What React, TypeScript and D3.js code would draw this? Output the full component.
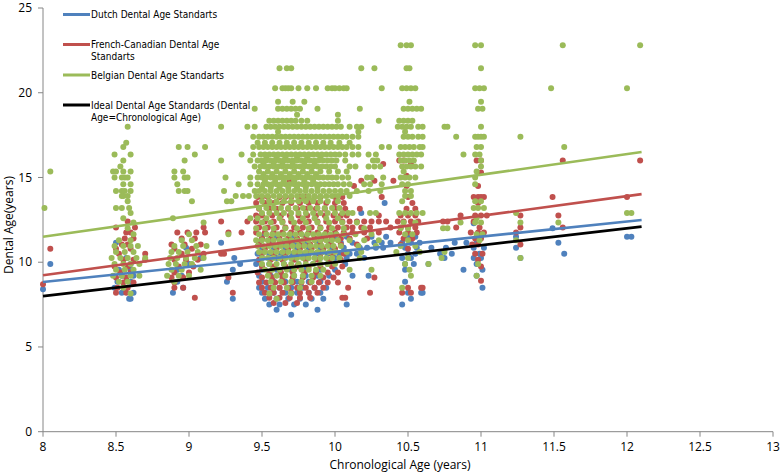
import React from 'react';
import * as d3 from 'd3';

const xTicks = [8, 8.5, 9, 9.5, 10, 10.5, 11, 11.5, 12, 12.5, 13];
const yTicks = [0, 5, 10, 15, 20, 25];

// Dutch (blue) points, grouped as [dental age, chronological ages[]]
const dutchRows: [number, number[]][] = [
  [13.5, [10.34]],
  [12.9, [10.18]],
  [12.3, [10.95]],
  [12.0, [11.49]],
  [11.5, [9.5, 9.6, 9.7, 9.8, 9.9, 10.0, 10.08, 10.25, 10.35, 10.5, 10.55, 11.0, 12.0, 12.03, 11.24]],
  [11.15, [8.5, 9.22, 9.48, 9.56, 9.64, 9.72, 9.8, 9.88, 9.96, 10.04, 10.12, 10.27, 10.32, 10.38, 10.46, 10.52, 10.58, 10.82, 10.9, 10.97, 11.53]],
  [10.85, [8.98, 9.5, 9.58, 9.66, 9.74, 9.82, 9.9, 9.98, 10.06, 10.17, 10.22, 10.28, 10.33, 10.48, 10.56, 10.66, 10.76, 10.95, 11.02, 11.24]],
  [10.5, [9.47, 9.55, 9.63, 9.71, 9.79, 9.87, 9.95, 10.03, 10.1, 10.15, 10.5, 10.55, 10.72, 10.8, 10.99, 11.57]],
  [10.25, [8.57, 9.08, 9.31, 9.5, 9.6, 9.7, 9.8, 9.9, 10.0, 10.08, 10.2, 10.46, 10.52, 10.75, 10.95, 11.0, 11.27]],
  [9.9, [8.05, 8.6, 9.0, 9.35, 9.46, 9.55, 9.65, 9.75, 9.85, 9.95, 10.07, 10.48, 10.54, 10.64, 10.97]],
  [9.55, [8.52, 8.6, 8.92, 9.3, 9.5, 9.6, 9.7, 9.8, 9.9, 10.0, 10.48, 10.88, 11.01]],
  [9.2, [8.54, 8.62, 8.95, 9.48, 9.56, 9.64, 9.72, 9.8, 9.88, 9.96, 10.12, 10.23, 10.97]],
  [8.85, [8.51, 8.6, 8.92, 9.26, 9.5, 9.58, 9.66, 9.74, 9.82, 9.9, 10.48]],
  [8.5, [8.49, 8.56, 8.96, 9.48, 9.54, 9.62, 9.7, 9.78, 9.86, 9.94, 11.01]],
  [8.4, [8.0]],
  [8.2, [8.54, 8.62, 8.89, 9.5, 9.58, 9.66, 9.74, 9.82, 9.9, 10.5, 10.59, 10.6]],
  [7.85, [8.59, 8.6, 9.3, 9.52, 9.6, 9.68, 9.76, 9.84, 9.92, 10.52]],
  [7.5, [9.55, 9.62, 9.72, 9.8, 10.08, 10.46]],
  [7.2, [9.6, 9.88]],
  [6.9, [9.7]],
];

// French-Canadian (red) points
const frenchRows: [number, number[]][] = [
  [16.0, [10.44, 10.47, 10.97, 11.0, 11.56, 12.09]],
  [15.8, [10.33, 10.52]],
  [15.3, [11.0]],
  [15.1, [10.49]],
  [14.8, [9.69, 10.18, 10.27, 10.4]],
  [14.5, [10.13, 10.49, 10.98]],
  [13.85, [9.47, 9.5, 9.54, 9.62, 9.66, 9.7, 9.76, 9.8, 9.86, 9.9, 10.0, 10.05, 10.32, 10.5, 10.95, 10.98, 11.0, 11.02, 11.49, 12.0]],
  [13.5, [9.46, 9.52, 9.58, 9.64, 9.7, 9.76, 9.82, 9.88, 9.94, 10.0, 10.06, 10.53, 10.98]],
  [13.15, [9.48, 9.55, 9.6, 9.68, 9.74, 9.8, 9.87, 9.93, 10.0, 10.07, 10.17, 10.49, 10.55]],
  [12.75, [9.46, 9.5, 9.57, 9.63, 9.69, 9.75, 9.81, 9.87, 9.93, 9.99, 10.04, 10.08, 10.3, 10.45, 10.5, 10.55, 10.96, 11.0, 11.04, 11.27, 11.53, 10.86]],
  [12.4, [8.58, 9.22, 9.4, 9.46, 9.52, 9.58, 9.64, 9.7, 9.76, 9.82, 9.88, 9.94, 10.0, 10.05, 10.1, 10.15, 10.2, 10.25, 10.3, 10.35, 10.43, 10.47, 10.52, 10.57, 10.74, 10.77, 10.95]],
  [12.05, [8.5, 8.63, 9.1, 9.48, 9.54, 9.6, 9.66, 9.72, 9.78, 9.84, 9.9, 9.96, 10.02, 10.08, 10.12, 10.18, 10.24, 10.38, 10.45, 10.5, 10.55, 10.83, 10.99, 11.27, 11.56]],
  [11.75, [8.57, 8.6, 8.92, 8.99, 9.05, 9.11, 9.27, 9.36, 9.46, 9.52, 9.58, 9.64, 9.7, 9.76, 9.82, 9.88, 9.94, 10.0, 10.06, 10.12, 10.2, 10.3, 10.44, 10.5, 10.56, 10.93, 10.98, 11.02, 11.24]],
  [11.4, [8.56, 8.62, 8.95, 9.04, 9.5, 9.56, 9.62, 9.68, 9.74, 9.8, 9.86, 9.92, 9.98, 10.04, 10.1, 10.22, 10.47, 10.53, 10.96, 11.0]],
  [11.05, [8.54, 8.58, 8.88, 8.97, 9.08, 9.48, 9.55, 9.62, 9.69, 9.76, 9.83, 9.9, 9.97, 10.04, 10.15, 10.45, 10.94, 10.98, 11.27]],
  [10.8, [8.05, 8.5, 8.6, 8.9, 9.02, 9.52, 9.6, 9.68, 9.76, 9.84, 9.92, 10.0, 10.5]],
  [10.5, [8.52, 8.7, 8.95, 9.1, 9.22, 9.24, 9.5, 9.58, 9.66, 9.74, 9.82, 9.9, 9.98, 10.06, 10.96, 11.01]],
  [10.15, [8.55, 8.62, 8.7, 8.9, 8.98, 9.06, 9.48, 9.56, 9.64, 9.72, 9.8, 9.88, 9.96, 10.04, 10.98]],
  [9.75, [8.49, 8.58, 8.93, 9.03, 9.5, 9.58, 9.66, 9.74, 9.82, 9.9, 9.98, 10.05, 11.0]],
  [9.4, [8.53, 8.6, 8.9, 9.0, 9.47, 9.55, 9.63, 9.71, 9.79, 9.87, 9.95, 10.02]],
  [9.1, [8.5, 8.57, 8.88, 8.96, 9.27, 9.5, 9.57, 9.64, 9.71, 9.78, 9.85, 9.92, 9.99, 10.27]],
  [8.9, [11.0]],
  [8.8, [8.55, 8.62, 8.9, 9.48, 9.53, 9.59, 9.65, 9.71, 9.77, 9.83, 9.89, 9.95, 10.02]],
  [8.7, [8.0]],
  [8.5, [8.51, 8.58, 8.9, 8.96, 9.5, 9.56, 9.62, 9.68, 9.74, 9.8, 9.86, 9.92, 10.09, 10.5, 10.59, 10.6]],
  [8.2, [8.5, 8.57, 9.3, 9.52, 9.58, 9.64, 9.7, 9.76, 9.82, 9.88, 10.24, 10.46, 10.52]],
  [7.9, [9.04, 9.55, 9.62, 9.69, 9.76, 9.83, 10.05, 10.07]],
  [7.6, [9.58, 9.66, 9.74]],
];

// Belgian (green) points
const belgianRows: [number, number[]][] = [
  [22.8, [10.45, 10.49, 10.52, 10.96, 11.0, 11.56, 12.09]],
  [21.45, [9.62, 9.67, 9.7, 10.18, 10.27, 10.49, 10.51, 11.0]],
  [20.27, [9.59, 9.64, 9.66, 9.68, 9.7, 9.75, 9.81, 9.87, 9.95, 9.98, 10.0, 10.03, 10.06, 10.08, 10.32, 10.46, 10.49, 10.52, 10.55, 10.96, 10.99, 11.02, 11.48, 12.0]],
  [19.47, [9.61, 9.71, 9.79, 10.51, 11.0]],
  [19.05, [9.45, 9.61, 9.64, 9.67, 9.7, 9.73, 9.76, 9.88, 10.17, 10.47, 10.5, 10.53, 10.56, 10.59, 10.98, 11.01]],
  [18.7, [9.74, 10.02]],
  [18.35, [9.55, 9.58, 9.61, 9.64, 9.67, 9.7, 9.73, 9.77, 9.81, 10.02, 10.3, 10.44, 10.47, 10.5, 10.53]],
  [18.0, [8.58, 9.22, 9.4, 9.45, 9.53, 9.56, 9.59, 9.62, 9.65, 9.68, 9.71, 9.74, 9.77, 9.8, 9.83, 9.86, 9.89, 9.92, 9.95, 9.98, 10.01, 10.04, 10.1, 10.15, 10.18, 10.43, 10.46, 10.49, 10.52, 10.57, 10.6, 10.75, 10.77, 11.0]],
  [17.7, [9.61, 10.16, 10.48]],
  [17.4, [9.44, 9.48, 9.51, 9.54, 9.57, 9.6, 9.63, 9.66, 9.69, 9.72, 9.75, 9.78, 9.81, 9.84, 9.87, 9.9, 9.93, 9.96, 9.99, 10.02, 10.05, 10.08, 10.12, 10.16, 10.47, 10.5, 10.53, 10.57, 10.6, 10.83, 10.96, 10.98, 11.0, 11.02, 11.27]],
  [17.05, [8.57, 9.47, 9.52, 9.57, 9.62, 9.67, 9.72, 9.77, 9.82, 9.87, 9.92, 9.97, 10.03, 10.1]],
  [16.8, [8.55, 8.93, 8.99, 9.11, 9.44, 9.48, 9.51, 9.54, 9.57, 9.6, 9.63, 9.66, 9.69, 9.72, 9.75, 9.78, 9.81, 9.84, 9.87, 9.9, 9.93, 9.96, 9.99, 10.02, 10.05, 10.08, 10.12, 10.16, 10.32, 10.37, 10.45, 10.48, 10.51, 10.54, 10.58, 10.6, 10.97, 11.0, 11.57]],
  [16.35, [8.49, 8.6, 9.04, 9.36, 9.44, 9.49, 9.52, 9.55, 9.58, 9.61, 9.64, 9.67, 9.7, 9.73, 9.76, 9.79, 9.82, 9.85, 9.88, 9.91, 9.94, 9.97, 10.0, 10.03, 10.07, 10.12, 10.16, 10.23, 10.28, 10.44, 10.47, 10.5, 10.53, 10.56, 10.59, 10.88, 10.96, 10.99]],
  [16.15, [9.53, 9.6, 9.66, 9.74, 9.81, 9.9]],
  [16.0, [8.55, 8.97, 9.22, 9.42, 9.47, 9.5, 9.53, 9.56, 9.59, 9.62, 9.65, 9.68, 9.71, 9.74, 9.77, 9.8, 9.83, 9.86, 9.89, 9.92, 9.95, 9.98, 10.01, 10.07, 10.26, 10.29, 10.45, 10.48, 10.51, 10.54, 11.0]],
  [15.8, [9.51, 9.58, 9.64, 9.71, 9.79, 9.86]],
  [15.65, [8.53, 9.45, 9.49, 9.52, 9.55, 9.58, 9.61, 9.64, 9.67, 9.7, 9.73, 9.76, 9.79, 9.82, 9.85, 9.88, 9.91, 9.94, 9.97, 10.0, 10.1, 10.14, 10.23, 10.27, 10.31, 10.46, 10.49, 10.52, 10.55, 10.59, 11.0]],
  [15.35, [8.05, 8.48, 8.5, 8.55, 8.6, 8.9, 8.96, 9.48, 9.54, 9.6, 9.66, 9.72, 9.78, 9.84, 9.9, 9.96, 10.02, 10.08, 10.47, 10.97]],
  [15.2, [9.51, 9.57, 9.63, 9.69, 9.75, 9.81, 9.87]],
  [15.0, [8.49, 8.54, 8.56, 8.58, 8.9, 8.97, 8.99, 9.25, 9.42, 9.47, 9.5, 9.53, 9.56, 9.59, 9.62, 9.65, 9.68, 9.71, 9.74, 9.77, 9.8, 9.83, 9.86, 9.89, 9.92, 9.95, 9.98, 10.01, 10.05, 10.09, 10.22, 10.25, 10.33, 10.45, 10.48, 10.51, 10.55, 10.96]],
  [14.8, [9.52, 9.59, 9.65, 9.72, 9.79, 9.85]],
  [14.6, [8.55, 8.6, 8.92, 9.34, 9.42, 9.47, 9.51, 9.54, 9.57, 9.6, 9.63, 9.66, 9.69, 9.72, 9.75, 9.78, 9.81, 9.84, 9.87, 9.9, 9.93, 9.96, 9.99, 10.02, 10.06, 10.1, 10.2, 10.24, 10.32, 10.46, 10.5, 10.96]],
  [14.4, [9.5, 9.56, 9.62, 9.68, 9.74, 9.8, 9.88]],
  [14.2, [8.5, 8.54, 8.56, 8.6, 8.93, 8.97, 8.99, 9.24, 9.45, 9.48, 9.52, 9.56, 9.6, 9.64, 9.68, 9.72, 9.76, 9.8, 9.84, 9.88, 9.92, 9.96, 10.0, 10.04, 10.08, 10.15, 10.23, 10.31, 10.48, 10.52]],
  [13.9, [8.54, 8.55, 8.58, 9.32, 9.37, 9.41, 9.46, 9.5, 9.54, 9.58, 9.62, 9.66, 9.7, 9.74, 9.78, 9.82, 9.86, 9.9, 9.94, 9.98, 10.02, 10.1, 10.48, 10.52]],
  [13.6, [8.58, 9.02, 9.26, 9.29, 9.5, 9.55, 9.6, 9.65, 9.7, 9.75, 9.8, 9.85, 9.9, 9.95, 10.02, 10.46, 10.96, 11.0]],
  [13.2, [8.01, 8.5, 8.54, 8.59, 9.48, 9.53, 9.58, 9.63, 9.68, 9.73, 9.78, 9.83, 9.88, 9.93, 9.98, 10.03, 10.95, 10.98, 11.02]],
  [12.9, [8.6, 9.5, 9.55, 9.6, 9.65, 9.7, 9.75, 9.8, 9.85, 9.9, 9.95, 10.0, 10.05, 10.09, 10.12, 10.24, 10.28, 10.44, 10.48, 10.52, 10.56, 10.6, 11.24, 12.0, 12.03]],
  [12.6, [8.55, 8.89, 9.42, 9.47, 9.53, 9.62, 9.7, 9.78, 9.86, 9.94, 10.02, 10.97]],
  [12.35, [8.62, 9.1, 9.5, 9.56, 9.64, 9.72, 9.8, 9.88, 9.96, 10.05, 10.15, 10.47, 10.55, 10.86, 10.96, 11.0, 11.27, 11.53]],
  [12.0, [8.58, 9.46, 9.52, 9.58, 9.66, 9.74, 9.82, 9.9, 9.98, 10.06, 10.2, 10.45, 10.5, 10.74, 10.77]],
  [11.65, [8.62, 9.0, 9.27, 9.48, 9.53, 9.57, 9.61, 9.65, 9.69, 9.73, 9.77, 9.81, 9.85, 9.89, 9.93, 9.97, 10.01, 10.06, 10.14, 10.25, 10.48, 10.53, 10.97, 11.01]],
  [11.3, [8.52, 8.6, 8.95, 9.02, 9.46, 9.5, 9.54, 9.58, 9.62, 9.66, 9.7, 9.74, 9.78, 9.82, 9.86, 9.9, 9.94, 9.98, 10.02, 10.1, 10.2, 10.3, 10.5, 10.99, 11.24]],
  [10.95, [8.49, 8.55, 8.6, 8.65, 8.9, 8.96, 9.05, 9.12, 9.47, 9.51, 9.55, 9.59, 9.63, 9.67, 9.71, 9.75, 9.79, 9.83, 9.87, 9.91, 9.95, 9.99, 10.04, 10.16, 10.28, 10.45, 10.55]],
  [10.6, [8.5, 8.56, 8.62, 8.88, 8.93, 8.99, 9.06, 9.48, 9.52, 9.56, 9.6, 9.64, 9.68, 9.72, 9.76, 9.8, 9.84, 9.88, 9.92, 9.96, 10.0, 10.08, 10.18, 10.42, 10.58, 10.75]],
  [10.25, [8.47, 8.53, 8.58, 8.64, 8.7, 8.87, 8.92, 8.98, 9.04, 9.1, 9.5, 9.54, 9.58, 9.62, 9.66, 9.7, 9.74, 9.78, 9.82, 9.86, 9.9, 9.94, 9.98, 10.03, 10.17, 10.5, 10.73, 11.27]],
  [9.9, [8.49, 8.55, 8.6, 8.66, 8.86, 8.91, 8.97, 9.02, 9.5, 9.55, 9.6, 9.65, 9.7, 9.75, 9.8, 9.85, 9.9, 9.95, 10.0, 10.48, 10.64, 10.98]],
  [9.55, [8.5, 8.56, 8.62, 8.88, 8.95, 9.08, 9.52, 9.57, 9.62, 9.67, 9.72, 9.77, 9.82, 9.87, 9.92, 10.1, 10.25, 10.51]],
  [9.2, [8.48, 8.54, 8.6, 8.66, 8.85, 8.93, 9.0, 9.54, 9.6, 9.66, 9.72, 9.78, 9.84, 9.9, 10.52, 10.97]],
  [8.85, [8.52, 8.58, 8.9, 9.56, 9.63, 9.7, 9.77, 9.84]],
  [8.5, [8.55, 9.58, 9.67, 9.76, 10.46]],
  [8.15, [8.6, 9.55, 9.7]],
  [7.85, [9.6]],
];

// Trendlines (x range and fitted y at both ends)
const trendX = [8, 12.1];
const dutchTrend = [8.83, 12.49];
const frenchTrend = [9.23, 14.02];
const belgianTrend = [11.5, 16.5];
const idealTrend = [8, 12.1];

const seriesNames = [
  'Dutch Dental Age Standarts',
  'French-Canadian Dental Age Standarts',
  'Belgian Dental Age Standarts',
  'Ideal Dental Age Standards (Dental Age=Chronological Age)',
];
const legendLines = [
  ['Dutch Dental Age Standarts'],
  ['French-Canadian Dental Age', 'Standarts'],
  ['Belgian Dental Age Standarts'],
  ['Ideal Dental Age Standards (Dental', 'Age=Chronological Age)'],
];

const COLORS = ['#4F81BD', '#C0504D', '#9BBB59', '#000000'];

const W = 780;
const H = 475;

const flatten = (rows: [number, number[]][]) =>
  rows.flatMap(([y, xs]) => xs.map((x) => [x, y] as [number, number]));

export default function App() {
  const x = d3.scaleLinear().domain([8, 13]).range([43, 773]);
  const y = d3.scaleLinear().domain([0, 25]).range([431.7, 8]);
  const axisColor = '#868686';
  const tickFont = "'Open Sans', 'Noto Sans', sans-serif";
  const legendFont = "'DejaVu Sans Condensed', 'DejaVu Sans', sans-serif";

  const seriesPts = [flatten(dutchRows), flatten(frenchRows), flatten(belgianRows)];
  const trends = [dutchTrend, frenchTrend, belgianTrend, idealTrend];
  const line = d3
    .line<[number, number]>()
    .x((d) => x(d[0]))
    .y((d) => y(d[1]));

  const legendY = [14.5, 44.5, 75, 105];

  return (
    <>
      <style>{'body{margin:0;}'}</style>
      <svg width={W} height={H} style={{ display: 'block', background: '#fff' }}>
        {/* axes */}
        <line x1={x(8)} x2={x(13)} y1={y(0)} y2={y(0)} stroke={axisColor} strokeWidth={1} />
        <line x1={x(8)} x2={x(8)} y1={y(0)} y2={y(25)} stroke={axisColor} strokeWidth={1} />
        {xTicks.map((t) => (
          <g key={'xt' + t}>
            <line x1={x(t)} x2={x(t)} y1={y(0)} y2={y(0) + 5} stroke={axisColor} />
            <text x={x(t)} y={451} textAnchor="middle" fontFamily={tickFont} fontSize={12} fill="#000">
              {t}
            </text>
          </g>
        ))}
        {yTicks.map((t) => (
          <g key={'yt' + t}>
            <line x1={x(8) - 5} x2={x(8)} y1={y(t)} y2={y(t)} stroke={axisColor} />
            <text x={32} y={y(t) + 4.2} textAnchor="end" fontFamily={tickFont} fontSize={12} fill="#000">
              {t}
            </text>
          </g>
        ))}
        <text x={400} y={469} textAnchor="middle" fontFamily={tickFont} fontSize={12} fill="#000">
          Chronological Age (years)
        </text>
        <text
          transform={`translate(13,225) rotate(-90)`}
          textAnchor="middle"
          fontFamily={tickFont}
          fontSize={12}
          fill="#000"
        >
          Dental Age(years)
        </text>

        {/* points */}
        {seriesPts.map((pts, si) => (
          <g key={'s' + si} fill={COLORS[si]}>
            {pts.map((p, i) => (
              <circle key={i} cx={x(p[0])} cy={y(p[1])} r={3} />
            ))}
          </g>
        ))}

        {/* trendlines */}
        {trends.map((tr, i) => (
          <path
            key={'tr' + i}
            d={line([
              [trendX[0], tr[0]],
              [trendX[1], tr[1]],
            ]) || ''}
            stroke={COLORS[i]}
            strokeWidth={2.6}
            fill="none"
          />
        ))}

        {/* legend */}
        {seriesNames.map((name, i) => (
          <g key={'lg' + i}>
            <line x1={63} x2={90} y1={legendY[i]} y2={legendY[i]} stroke={COLORS[i]} strokeWidth={3} />
            {legendLines[i].map((ln, j) => (
              <text
                key={j}
                x={91}
                y={legendY[i] + 3.6 + j * 12}
                fontFamily={legendFont}
                fontSize={10}
                fill="#000"
              >
                {ln}
              </text>
            ))}
          </g>
        ))}
      </svg>
    </>
  );
}
